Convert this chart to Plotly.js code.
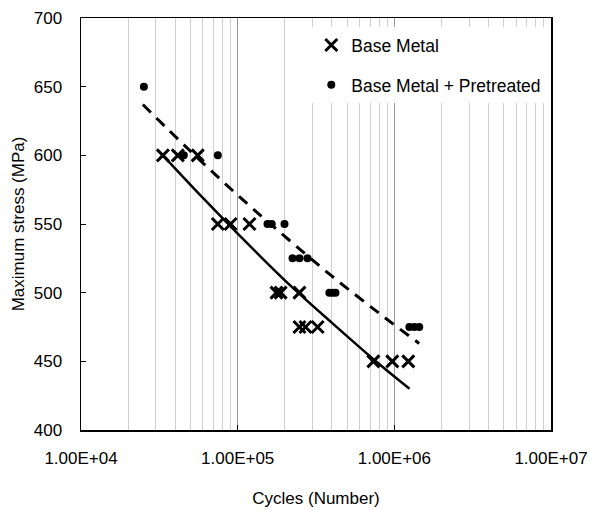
<!DOCTYPE html>
<html>
<head>
<meta charset="utf-8">
<script src="https://cdn.plot.ly/plotly-3.0.1.min.js"></script>
<style>html,body{margin:0;padding:0;background:#fff;}#chart{width:590px;height:510px;}</style>
</head>
<body>
<div id="chart"></div>
<script>
// Base Metal
const baseCycles = [33300, 41500, 55600, 74700, 90100, 119000, 177000, 188000, 248000, 248000, 271000, 324000, 735000, 971000, 1228000];
const baseStress = [600, 600, 600, 550, 550, 550, 500, 500, 500, 475, 475, 475, 450, 450, 450];
// Base Metal + Pretreated
const preCycles = [25200, 45300, 74700, 155000, 165000, 199000, 224000, 248000, 279000, 385000, 403000, 421000, 1247000, 1341000, 1442000];
const preStress = [650, 600, 600, 550, 550, 550, 525, 525, 525, 500, 500, 500, 475, 475, 475];
// Trend lines
const baseFitCycles = [33300, 60000, 100000, 200000, 400000, 800000, 1250000];
const baseFitStress = [600, 569, 543, 509, 478, 448, 430];
const preFitCycles = [24800, 50000, 100000, 200000, 400000, 800000, 1440000];
const preFitStress = [637, 603, 571, 541, 512, 485, 463];
// Axis ticks
const xTickVals = [1e4, 1e5, 1e6, 1e7];
const xTickText = ["1.00E+04", "1.00E+05", "1.00E+06", "1.00E+07"];
const yTickVals = [400, 450, 500, 550, 600, 650, 700];

const font = {family: "Liberation Sans, Arial, sans-serif", size: 17, color: "#000"};
const legendFont = {family: "Liberation Sans, Arial, sans-serif", size: 17.5, color: "#000"};

const traces = [
  {x: baseFitCycles, y: baseFitStress, mode: "lines", line: {color: "#000", width: 2.5, shape: "spline"}, showlegend: false, hoverinfo: "skip"},
  {x: preFitCycles, y: preFitStress, mode: "lines", line: {color: "#000", width: 3, dash: "11px,8px", shape: "spline"}, showlegend: false, hoverinfo: "skip"},
  {x: baseCycles, y: baseStress, mode: "markers", name: "Base Metal", legendgroup: "a",
   marker: {symbol: "x-thin", size: 12, color: "#000", line: {color: "#000", width: 3}}},
  {x: preCycles, y: preStress, mode: "markers", name: "Base Metal + Pretreated", legendgroup: "b",
   marker: {symbol: "circle", size: 8, color: "#000"}}
];

const layout = {
  width: 590, height: 510,
  margin: {l: 81, r: 39, t: 18, b: 80},
  paper_bgcolor: "#fff", plot_bgcolor: "#fff",
  font: font,
  showlegend: true,
  legend: {x: 0.49, y: 0.978, xanchor: "left", yanchor: "top", bgcolor: "#fff", borderwidth: 0,
           font: legendFont, tracegroupgap: 14, itemwidth: 30},
  xaxis: {
    type: "log", range: [4, 7],
    tickvals: xTickVals, ticktext: xTickText,
    showgrid: true, gridcolor: "#9a9a9a", gridwidth: 1,
    minor: {dtick: "D1", showgrid: true, gridcolor: "#d0d0d0", gridwidth: 1, ticks: ""},
    showline: true, linecolor: "#000", linewidth: 1.5, mirror: true,
    ticks: "inside", ticklen: 5, tickcolor: "#000",
    ticklabelstandoff: 12,
    zeroline: false,
    title: {text: "Cycles (Number)", font: font, standoff: 25}
  },
  yaxis: {
    range: [400, 700], tickvals: yTickVals,
    showgrid: false, zeroline: false,
    showline: true, linecolor: "#000", linewidth: 1.5, mirror: true,
    ticks: "inside", ticklen: 5, tickcolor: "#000",
    ticklabelstandoff: 14,
    title: {text: "Maximum stress (MPa)", font: font, standoff: 5}
  }
};

Plotly.newPlot("chart", traces, layout, {staticPlot: true, displayModeBar: false});
</script>
</body>
</html>
